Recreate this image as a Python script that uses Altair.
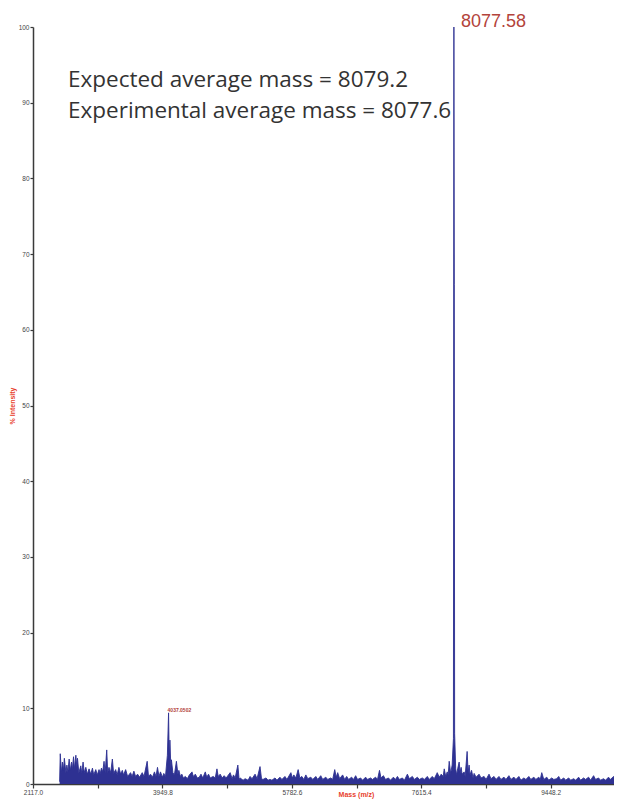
import altair as alt
import pandas as pd

# ---- spectrum data (m/z, % intensity) ----
MASS = [
    2494, 2503, 2519, 2533, 2547, 2561, 2583, 2597, 2611, 2629, 2646, 2663, 2674, 2691, 2702, 2724,
    2738, 2747, 2766, 2794, 2808, 2826, 2843, 2865, 2886, 2911, 2935, 2959, 2977, 3006, 3027, 3052,
    3069, 3086, 3104, 3123, 3139, 3161, 3175, 3193, 3217, 3241, 3259, 3288, 3309, 3334, 3358, 3382,
    3400, 3429, 3457, 3499, 3520, 3546, 3570, 3598, 3626, 3664, 3689, 3734, 3753, 3781, 3809, 3837,
    3859, 3880, 3901, 3922, 3950, 3969, 3993, 4020, 4037, 4047, 4056, 4070, 4077, 4098, 4119, 4148,
    4169, 4183, 4204, 4225, 4246, 4275, 4303, 4331, 4369, 4387, 4416, 4444, 4472, 4496, 4521, 4557,
    4578, 4603, 4627, 4669, 4698, 4722, 4740, 4768, 4796, 4824, 4853, 4909, 4937, 4956, 4980, 5018,
    5036, 5050, 5092, 5121, 5163, 5191, 5219, 5262, 5290, 5332, 5353, 5374, 5417, 5445, 5473, 5501,
    5544, 5572, 5614, 5642, 5685, 5713, 5769, 5790, 5811, 5840, 5872, 5896, 5924, 5952, 5981, 6009,
    6051, 6079, 6122, 6150, 6192, 6220, 6263, 6291, 6333, 6361, 6390, 6411, 6432, 6460, 6502, 6531,
    6559, 6587, 6629, 6657, 6686, 6714, 6756, 6784, 6827, 6855, 6897, 6925, 6968, 6996, 7024, 7045,
    7080, 7109, 7151, 7179, 7221, 7250, 7278, 7306, 7348, 7377, 7419, 7447, 7489, 7518, 7560, 7588,
    7630, 7659, 7701, 7729, 7771, 7800, 7842, 7870, 7898, 7926, 7941, 7962, 7983, 7997, 8011, 8032,
    8053, 8071, 8077.58, 8083, 8088, 8103, 8117, 8131, 8152, 8166, 8180, 8194, 8223, 8237, 8265, 8279,
    8293, 8307, 8328, 8349, 8364, 8392, 8434, 8462, 8505, 8533, 8575, 8603, 8646, 8674, 8716, 8744,
    8787, 8815, 8857, 8885, 8928, 8956, 8998, 9026, 9069, 9097, 9139, 9167, 9210, 9238, 9280, 9301,
    9322, 9351, 9393, 9421, 9463, 9492, 9534, 9562, 9590, 9633, 9661, 9703, 9731, 9774, 9802, 9844,
    9872, 9915, 9943, 9985, 10013, 10056, 10084, 10126, 10154, 10197, 10225, 10267, 10295, 10338, 10366, 10395,
]
INTENSITY = [
    0.3, 4.0, 1.5, 2.9, 1.8, 3.4, 1.5, 2.5, 1.6, 3.3, 1.8, 2.9, 1.9, 3.6, 2.0, 3.8,
    2.2, 3.4, 1.5, 2.4, 1.4, 2.9, 1.5, 2.2, 1.3, 2.0, 1.3, 2.1, 1.2, 1.9, 1.2, 1.9,
    1.4, 2.1, 1.6, 3.0, 1.5, 4.5, 1.5, 2.2, 1.5, 3.3, 1.4, 1.9, 1.2, 2.2, 1.3, 1.8,
    1.2, 1.9, 1.0, 1.5, 1.0, 1.7, 1.0, 1.3, 0.9, 1.5, 1.0, 3.0, 1.0, 1.3, 0.9, 1.6,
    1.0, 2.2, 1.0, 1.6, 0.9, 1.4, 1.0, 3.8, 9.4, 3.0, 5.8, 2.0, 3.2, 1.5, 1.2, 3.0,
    1.3, 1.8, 1.0, 1.3, 0.8, 1.0, 0.7, 1.2, 1.6, 1.0, 1.3, 0.8, 0.9, 1.3, 0.8, 1.6,
    0.9, 1.3, 0.8, 1.0, 0.8, 2.0, 1.0, 1.3, 0.8, 1.1, 0.8, 1.5, 0.7, 1.2, 0.8, 2.5,
    0.6, 0.8, 0.5, 0.7, 0.5, 1.0, 0.7, 1.3, 0.7, 2.3, 0.7, 0.6, 0.8, 0.5, 0.6, 0.5,
    0.8, 0.5, 0.9, 0.6, 1.0, 0.6, 1.5, 0.8, 1.2, 0.8, 1.9, 0.8, 1.0, 0.6, 1.2, 0.7,
    0.9, 0.6, 1.0, 0.6, 1.1, 0.6, 0.9, 0.6, 0.8, 0.6, 1.9, 0.9, 1.5, 0.7, 1.2, 0.6,
    1.0, 0.6, 0.9, 0.6, 1.1, 0.6, 0.8, 0.5, 0.9, 0.6, 0.8, 0.6, 0.9, 0.6, 1.8, 0.8,
    1.1, 0.6, 0.8, 0.5, 0.9, 0.6, 1.0, 0.6, 0.8, 0.5, 1.3, 0.7, 1.0, 0.6, 0.9, 0.6,
    0.8, 0.6, 1.0, 0.6, 1.0, 0.7, 1.5, 0.9, 1.3, 1.0, 2.0, 1.0, 1.6, 1.2, 3.0, 1.4,
    2.5, 6.0, 100.0, 66.0, 6.7, 2.0, 1.2, 2.0, 2.9, 1.5, 2.2, 1.3, 1.6, 1.0, 4.3, 1.5,
    2.5, 1.2, 1.8, 0.8, 1.4, 0.9, 1.3, 0.8, 1.0, 0.6, 1.3, 0.7, 1.0, 0.6, 1.0, 0.6,
    0.9, 0.6, 1.1, 0.6, 0.9, 0.6, 1.0, 0.5, 0.8, 0.6, 1.0, 0.6, 0.9, 0.6, 0.9, 0.6,
    1.5, 0.6, 0.9, 0.5, 0.8, 0.6, 0.7, 1.0, 0.5, 0.8, 0.5, 0.8, 0.5, 0.7, 0.5, 0.9,
    0.5, 0.8, 0.6, 0.9, 0.5, 1.1, 0.6, 0.8, 0.5, 0.7, 0.5, 0.9, 0.6, 1.0, 0.5, 0.7,
]

# peak labels
PEAK_MASS = [8077.58, 4037.0]
PEAK_INT = [100.0, 9.4]
PEAK_TEXT = ["8077.58", "4037.0502"]

# axis ticks
X_TICKS = [2117.0, 3033.4, 3949.8, 4866.2, 5782.6, 6699.0, 7615.4, 8531.8, 9448.2, 10364.6]
Y_TICKS = [0, 10, 20, 30, 40, 50, 60, 70, 80, 90, 100]

ANNOT = ["Expected average mass = 8079.2", "Experimental average mass = 8077.6"]

NAVY = "#2e3192"
RED = "#e8412c"
PEAK_RED = "#b3433b"
AXIS_GREY = "#3a3a3a"

spec = pd.DataFrame({"mass": MASS, "intensity": INTENSITY})
peaks = pd.DataFrame({"mass": PEAK_MASS, "intensity": PEAK_INT, "label": PEAK_TEXT})

x_scale = alt.Scale(domain=[2117, 10345], nice=False, zero=False)
y_scale = alt.Scale(domain=[0, 100], nice=False)

label_expr = ("abs((datum.value - 2117) / 1832.8 - round((datum.value - 2117) / 1832.8)) < 0.01"
              " ? format(datum.value, '.1f') : ''")

x_enc = alt.X(
    "mass:Q", scale=x_scale,
    axis=alt.Axis(
        values=X_TICKS, labelExpr=label_expr, labelOverlap=False, labelFlush=False,
        labelFontSize=6.5, labelColor="#444444", labelFont="Liberation Sans", labelPadding=1,
        tickSize=4, tickColor=AXIS_GREY, tickWidth=1.2, domainColor=AXIS_GREY, domainWidth=1.5,
        grid=False, title="Mass (m/z)", titleColor=RED, titleFontSize=7, titleFontWeight="bold",
        titleFont="Liberation Sans", titleX=323, titleY=6, titleBaseline="top",
    ),
)
y_enc = alt.Y(
    "intensity:Q", scale=y_scale,
    axis=alt.Axis(
        values=Y_TICKS, format="d", labelFlush=False, labelOverlap=False,
        labelFontSize=6.5, labelColor="#444444", labelFont="Liberation Sans", labelPadding=1,
        tickSize=3, tickColor=AXIS_GREY, tickWidth=1.2, domainColor=AXIS_GREY, domainWidth=1.5,
        grid=False, title="% Intensity", titleColor=RED, titleFontSize=7, titleFontWeight="bold",
        titleFont="Liberation Sans", titlePadding=3,
    ),
)

spectrum = alt.Chart(spec).mark_area(
    color=NAVY, opacity=1, line={"color": NAVY, "strokeWidth": 0.9}
).encode(x=x_enc, y=y_enc)

big_label = alt.Chart(peaks).transform_filter(
    alt.datum.intensity > 50
).mark_text(
    align="left", baseline="alphabetic", dx=7, dy=0, fontSize=18,
    font="Liberation Sans", color=PEAK_RED
).encode(x="mass:Q", y="intensity:Q", text="label:N")

small_label = alt.Chart(peaks).transform_filter(
    alt.datum.intensity < 50
).mark_text(
    align="left", baseline="bottom", dx=-1, dy=0, fontSize=5, fontWeight="bold",
    font="Liberation Sans", color=PEAK_RED
).encode(x="mass:Q", y="intensity:Q", text="label:N")

line1 = alt.Chart(pd.DataFrame({"t": [ANNOT[0]]})).mark_text(
    align="left", baseline="middle", fontSize=22.5, font="Open Sans", color="#333333"
).encode(text="t:N", x=alt.value(35), y=alt.value(53))

line2 = alt.Chart(pd.DataFrame({"t": [ANNOT[1]]})).mark_text(
    align="left", baseline="middle", fontSize=22.5, font="Open Sans", color="#333333"
).encode(text="t:N", x=alt.value(35), y=alt.value(84))

chart = alt.layer(spectrum, big_label, small_label, line1, line2).properties(
    width=581, height=757,
    autosize=alt.AutoSizeParams(type="none"),
    padding={"left": 25, "top": 19, "right": 0, "bottom": 15},
    background="white",
).configure_view(strokeWidth=0)

chart.save("out.html", embed_options={"renderer": "svg", "actions": False})
